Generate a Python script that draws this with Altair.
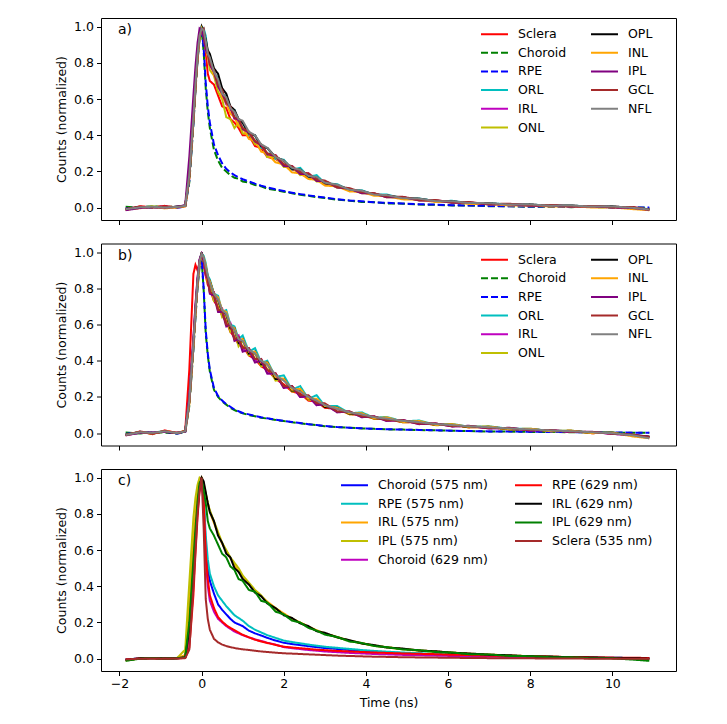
import altair as alt
import pandas as pd

# ---------------- data ----------------
time_ns = [-1.85, -1.5, -1.2, -0.9, -0.6, -0.4,
           -0.3, -0.2, -0.15, -0.1, -0.05, 0.0,
           0.05, 0.1, 0.15, 0.2, 0.3, 0.4, 0.5, 0.6, 0.7, 0.8, 0.9, 1.0,
           1.15, 1.3, 1.45, 1.6, 1.8, 2.0, 2.2, 2.4, 2.6, 2.8, 3.0,
           3.3, 3.6, 3.9, 4.2, 4.5, 4.9, 5.3, 5.7, 6.1, 6.5,
           7.0, 7.5, 8.0, 8.5, 9.0, 9.5, 10.0, 10.5, 10.9]

panel_labels = ["a)", "b)", "c)"]
x_ticks = [-2, 0, 2, 4, 6, 8, 10]
y_ticks = [0.0, 0.2, 0.4, 0.6, 0.8, 1.0]

layers_ab = ["Sclera", "Choroid", "RPE", "ORL", "IRL", "ONL", "OPL", "INL", "IPL", "GCL", "NFL"]
colors_ab = ["#ff0000", "#008000", "#0000ff", "#00bfbf", "#bf00bf", "#bfbf00",
             "#000000", "#ffa500", "#800080", "#a52a2a", "#808080"]
dashed_ab = ["Choroid", "RPE"]

layers_c = ["Choroid (575 nm)", "RPE (575 nm)", "IRL (575 nm)", "IPL (575 nm)", "Choroid (629 nm)",
            "RPE (629 nm)", "IRL (629 nm)", "IPL (629 nm)", "Sclera (535 nm)"]
colors_c = ["#0000ff", "#00bfbf", "#ffa500", "#bfbf00", "#bf00bf",
            "#ff0000", "#000000", "#008000", "#a52a2a"]
dashed_c = []

# panel a
a_sclera = [-0.012, 0.008, 0.003, 0.01, 0.0, 0.008,
            0.16, 0.48, 0.66, 0.83, 0.94, 0.99,
            0.95, 0.86, 0.74, 0.7, 0.68, 0.62, 0.56, 0.55, 0.49, 0.47, 0.44, 0.4,
            0.4, 0.34, 0.33, 0.28, 0.27, 0.24, 0.21, 0.2, 0.165, 0.16, 0.13,
            0.125, 0.095, 0.09, 0.07, 0.07, 0.05, 0.048, 0.035, 0.035, 0.025,
            0.024, 0.015, 0.018, 0.01, 0.012, 0.005, 0.008, -0.002, -0.012]
a_choroid = [0.005, 0.0, 0.008, 0.002, 0.006, 0.004,
             0.14, 0.46, 0.65, 0.81, 0.93, 0.98,
             0.86, 0.66, 0.53, 0.44, 0.32, 0.26, 0.22, 0.2, 0.18, 0.165, 0.16, 0.145,
             0.138, 0.125, 0.118, 0.105, 0.098, 0.088, 0.08, 0.071, 0.066, 0.058, 0.054,
             0.044, 0.039, 0.032, 0.03, 0.024, 0.022, 0.017, 0.016, 0.012, 0.012,
             0.008, 0.008, 0.005, 0.006, 0.003, 0.004, 0.001, 0.002, -0.002]
a_rpe = [-0.005, 0.004, 0.001, 0.006, 0.0, 0.006,
         0.15, 0.47, 0.66, 0.82, 0.94, 0.99,
         0.88, 0.69, 0.56, 0.47, 0.35, 0.29, 0.245, 0.215, 0.195, 0.18, 0.168, 0.157,
         0.145, 0.133, 0.122, 0.112, 0.102, 0.092, 0.083, 0.075, 0.068, 0.062, 0.056,
         0.047, 0.04, 0.035, 0.03, 0.027, 0.023, 0.019, 0.017, 0.014, 0.012,
         0.01, 0.008, 0.007, 0.006, 0.005, 0.004, 0.003, 0.002, 0.001]
a_orl = [-0.008, 0.003, 0.006, 0.002, 0.004, 0.012,
         0.17, 0.49, 0.67, 0.83, 0.95, 1.0,
         0.99, 0.95, 0.85, 0.84, 0.74, 0.72, 0.62, 0.62, 0.54, 0.54, 0.47, 0.47,
         0.4, 0.4, 0.33, 0.33, 0.27, 0.265, 0.21, 0.22, 0.17, 0.18, 0.135,
         0.13, 0.098, 0.096, 0.072, 0.073, 0.052, 0.051, 0.036, 0.038, 0.025,
         0.025, 0.017, 0.018, 0.011, 0.012, 0.006, 0.007, 0.0, -0.008]
a_irl = [-0.01, 0.002, 0.004, -0.002, 0.006, 0.01,
         0.19, 0.52, 0.7, 0.85, 0.96, 0.99,
         0.96, 0.88, 0.85, 0.79, 0.75, 0.67, 0.63, 0.57, 0.55, 0.49, 0.48, 0.43,
         0.42, 0.36, 0.35, 0.29, 0.29, 0.23, 0.23, 0.185, 0.19, 0.148, 0.147,
         0.112, 0.105, 0.081, 0.079, 0.059, 0.059, 0.041, 0.041, 0.029, 0.03,
         0.019, 0.021, 0.012, 0.014, 0.007, 0.01, 0.002, 0.003, -0.011]
a_onl = [-0.012, 0.0, 0.007, 0.001, 0.003, 0.009,
         0.17, 0.49, 0.67, 0.83, 0.94, 0.99,
         0.95, 0.87, 0.84, 0.76, 0.73, 0.64, 0.6, 0.5, 0.49, 0.44, 0.47, 0.41,
         0.41, 0.35, 0.35, 0.28, 0.28, 0.225, 0.225, 0.18, 0.185, 0.145, 0.145,
         0.11, 0.105, 0.08, 0.078, 0.058, 0.058, 0.04, 0.041, 0.027, 0.029,
         0.018, 0.02, 0.011, 0.013, 0.006, 0.008, 0.002, 0.001, -0.01]
a_opl = [-0.008, 0.004, 0.002, 0.003, 0.005, 0.011,
         0.18, 0.5, 0.68, 0.84, 0.95, 1.0,
         0.97, 0.93, 0.87, 0.85, 0.77, 0.74, 0.66, 0.63, 0.56, 0.54, 0.49, 0.47,
         0.41, 0.4, 0.34, 0.33, 0.28, 0.26, 0.215, 0.21, 0.172, 0.168, 0.135,
         0.125, 0.098, 0.092, 0.072, 0.069, 0.052, 0.05, 0.035, 0.035, 0.025,
         0.024, 0.016, 0.017, 0.01, 0.011, 0.005, 0.006, -0.002, -0.009]
a_inl = [-0.01, -0.003, 0.006, -0.004, 0.002, 0.008,
         0.17, 0.49, 0.67, 0.83, 0.94, 0.99,
         0.96, 0.9, 0.83, 0.81, 0.73, 0.69, 0.61, 0.58, 0.52, 0.5, 0.45, 0.44,
         0.38, 0.37, 0.31, 0.3, 0.25, 0.24, 0.195, 0.19, 0.158, 0.155, 0.122,
         0.118, 0.09, 0.087, 0.066, 0.064, 0.046, 0.045, 0.031, 0.031, 0.021,
         0.02, 0.012, 0.013, 0.006, 0.008, 0.001, 0.002, -0.008, -0.014]
a_ipl = [-0.014, -0.002, 0.004, 0.0, 0.004, 0.015,
         0.28, 0.62, 0.78, 0.91, 0.99, 0.98,
         0.94, 0.87, 0.85, 0.79, 0.75, 0.67, 0.63, 0.58, 0.555, 0.495, 0.485, 0.435,
         0.415, 0.365, 0.345, 0.295, 0.285, 0.23, 0.228, 0.186, 0.186, 0.148, 0.146,
         0.112, 0.104, 0.08, 0.079, 0.058, 0.058, 0.04, 0.04, 0.027, 0.029,
         0.018, 0.019, 0.011, 0.012, 0.006, 0.007, 0.001, -0.002, -0.012]
a_gcl = [-0.006, 0.006, 0.0, 0.007, 0.003, 0.01,
         0.17, 0.49, 0.67, 0.83, 0.95, 0.98,
         0.99, 0.9, 0.86, 0.8, 0.76, 0.68, 0.65, 0.58, 0.56, 0.5, 0.49, 0.44,
         0.42, 0.37, 0.35, 0.3, 0.29, 0.24, 0.23, 0.195, 0.19, 0.155, 0.15,
         0.115, 0.108, 0.085, 0.08, 0.062, 0.06, 0.043, 0.042, 0.03, 0.031,
         0.02, 0.022, 0.013, 0.015, 0.008, 0.01, 0.003, 0.004, -0.012]
a_nfl = [-0.008, 0.002, 0.005, 0.001, 0.004, 0.01,
         0.18, 0.5, 0.68, 0.84, 0.95, 0.99,
         0.98, 0.92, 0.85, 0.83, 0.75, 0.71, 0.63, 0.61, 0.55, 0.53, 0.49, 0.48,
         0.42, 0.4, 0.35, 0.33, 0.28, 0.26, 0.22, 0.21, 0.175, 0.17, 0.138,
         0.127, 0.099, 0.094, 0.072, 0.07, 0.052, 0.05, 0.036, 0.036, 0.026,
         0.025, 0.017, 0.018, 0.011, 0.012, 0.006, 0.007, -0.001, -0.01]

# panel b
b_sclera = [-0.012, 0.01, -0.005, 0.015, 0.002, 0.012,
            0.35, 0.88, 0.93, 0.9, 0.94, 0.97,
            0.93, 0.87, 0.82, 0.8, 0.73, 0.7, 0.65, 0.62, 0.56, 0.53, 0.49, 0.48,
            0.43, 0.41, 0.37, 0.35, 0.3, 0.27, 0.23, 0.22, 0.18, 0.175, 0.14,
            0.135, 0.105, 0.1, 0.08, 0.08, 0.06, 0.06, 0.045, 0.045, 0.032,
            0.034, 0.02, 0.022, 0.01, 0.012, 0.0, 0.003, -0.012, -0.022]
b_choroid = [0.004, -0.002, 0.006, 0.003, 0.0, 0.005,
             0.15, 0.46, 0.64, 0.8, 0.92, 0.96,
             0.79, 0.55, 0.43, 0.34, 0.24, 0.2, 0.175, 0.158, 0.14, 0.128, 0.117, 0.11,
             0.1, 0.094, 0.085, 0.081, 0.073, 0.067, 0.06, 0.055, 0.049, 0.044, 0.039,
             0.033, 0.03, 0.026, 0.024, 0.021, 0.02, 0.017, 0.016, 0.013, 0.012,
             0.009, 0.009, 0.007, 0.007, 0.005, 0.005, 0.003, 0.003, 0.002]
b_rpe = [-0.004, 0.006, 0.001, 0.009, -0.003, 0.007,
         0.16, 0.47, 0.65, 0.81, 0.93, 0.97,
         0.8, 0.57, 0.44, 0.35, 0.25, 0.206, 0.18, 0.16, 0.146, 0.131, 0.121, 0.112,
         0.104, 0.095, 0.088, 0.082, 0.075, 0.068, 0.062, 0.056, 0.05, 0.045, 0.04,
         0.034, 0.03, 0.027, 0.024, 0.022, 0.02, 0.018, 0.016, 0.014, 0.012,
         0.01, 0.009, 0.008, 0.007, 0.006, 0.005, 0.004, 0.003, 0.003]
b_orl = [-0.01, 0.008, 0.002, 0.012, -0.002, 0.01,
         0.17, 0.49, 0.67, 0.83, 0.95, 0.99,
         0.98, 0.94, 0.87, 0.85, 0.77, 0.76, 0.67, 0.68, 0.6, 0.59, 0.52, 0.54,
         0.45, 0.47, 0.39, 0.4, 0.31, 0.32, 0.24, 0.26, 0.19, 0.21, 0.15,
         0.15, 0.11, 0.115, 0.085, 0.09, 0.065, 0.07, 0.047, 0.051, 0.036,
         0.038, 0.024, 0.025, 0.012, 0.014, 0.003, 0.004, -0.01, -0.018]
b_irl = [-0.012, 0.003, 0.004, 0.008, 0.003, 0.008,
         0.19, 0.52, 0.7, 0.85, 0.96, 0.99,
         0.95, 0.87, 0.86, 0.78, 0.78, 0.68, 0.69, 0.6, 0.61, 0.52, 0.54, 0.46,
         0.47, 0.4, 0.41, 0.33, 0.33, 0.25, 0.26, 0.2, 0.2, 0.155, 0.16,
         0.118, 0.118, 0.09, 0.092, 0.069, 0.072, 0.051, 0.053, 0.038, 0.04,
         0.027, 0.029, 0.015, 0.017, 0.006, 0.007, -0.004, -0.011, -0.02]
b_onl = [-0.008, 0.006, -0.002, 0.01, 0.002, 0.012,
         0.17, 0.49, 0.67, 0.83, 0.94, 0.98,
         0.95, 0.9, 0.83, 0.83, 0.73, 0.73, 0.64, 0.65, 0.56, 0.57, 0.48, 0.51,
         0.43, 0.44, 0.37, 0.38, 0.29, 0.3, 0.23, 0.235, 0.185, 0.185, 0.145,
         0.138, 0.105, 0.105, 0.08, 0.083, 0.06, 0.063, 0.044, 0.047, 0.033,
         0.034, 0.021, 0.022, 0.011, 0.012, 0.001, 0.002, -0.013, -0.019]
b_opl = [-0.01, 0.004, 0.001, 0.009, 0.0, 0.01,
         0.18, 0.5, 0.68, 0.84, 0.95, 1.0,
         0.96, 0.92, 0.86, 0.84, 0.77, 0.74, 0.67, 0.66, 0.58, 0.58, 0.5, 0.52,
         0.44, 0.45, 0.38, 0.39, 0.3, 0.3, 0.235, 0.24, 0.19, 0.185, 0.145,
         0.14, 0.108, 0.107, 0.082, 0.083, 0.063, 0.064, 0.046, 0.047, 0.034,
         0.035, 0.022, 0.023, 0.012, 0.013, 0.002, 0.003, -0.012, -0.02]
b_inl = [-0.012, 0.007, -0.003, 0.012, 0.001, 0.011,
         0.16, 0.48, 0.66, 0.82, 0.94, 0.99,
         0.97, 0.93, 0.86, 0.84, 0.77, 0.75, 0.68, 0.67, 0.59, 0.58, 0.51, 0.52,
         0.45, 0.45, 0.39, 0.39, 0.31, 0.3, 0.24, 0.245, 0.19, 0.19, 0.15,
         0.14, 0.11, 0.11, 0.082, 0.088, 0.062, 0.067, 0.045, 0.05, 0.035,
         0.037, 0.022, 0.025, 0.011, 0.015, 0.0, 0.003, -0.018, -0.028]
b_ipl = [-0.011, 0.002, 0.003, 0.007, 0.002, 0.01,
         0.2, 0.53, 0.71, 0.86, 0.96, 0.99,
         0.95, 0.88, 0.85, 0.77, 0.76, 0.67, 0.67, 0.59, 0.6, 0.51, 0.52, 0.45,
         0.46, 0.39, 0.4, 0.33, 0.33, 0.25, 0.26, 0.2, 0.205, 0.155, 0.16,
         0.115, 0.12, 0.088, 0.093, 0.068, 0.073, 0.05, 0.054, 0.037, 0.041,
         0.026, 0.03, 0.015, 0.018, 0.006, 0.008, -0.004, -0.009, -0.02]
b_gcl = [-0.009, 0.008, -0.004, 0.013, -0.001, 0.012,
         0.17, 0.49, 0.67, 0.83, 0.95, 0.98,
         0.97, 0.88, 0.86, 0.78, 0.77, 0.68, 0.68, 0.6, 0.6, 0.52, 0.53, 0.47,
         0.47, 0.41, 0.41, 0.35, 0.33, 0.26, 0.26, 0.21, 0.21, 0.165, 0.165,
         0.12, 0.12, 0.093, 0.092, 0.072, 0.071, 0.053, 0.053, 0.039, 0.04,
         0.028, 0.028, 0.017, 0.017, 0.008, 0.007, -0.003, -0.008, -0.022]
b_nfl = [-0.01, 0.005, 0.002, 0.01, 0.001, 0.01,
         0.18, 0.5, 0.68, 0.84, 0.95, 0.99,
         0.97, 0.92, 0.87, 0.83, 0.77, 0.74, 0.68, 0.66, 0.6, 0.57, 0.52, 0.51,
         0.46, 0.44, 0.4, 0.38, 0.32, 0.29, 0.25, 0.23, 0.2, 0.18, 0.155,
         0.135, 0.115, 0.104, 0.088, 0.081, 0.068, 0.061, 0.05, 0.045, 0.038,
         0.033, 0.026, 0.021, 0.015, 0.011, 0.005, 0.0, -0.012, -0.028]

# panel c
c_choroid575 = [-0.005, 0.002, 0.001, 0.003, 0.002, 0.01,
                0.2, 0.56, 0.74, 0.88, 0.97, 1.0,
                0.88, 0.62, 0.5, 0.43, 0.36, 0.3, 0.27, 0.245, 0.22, 0.2, 0.19, 0.18,
                0.155, 0.14, 0.128, 0.115, 0.1, 0.088, 0.081, 0.075, 0.069, 0.064, 0.059,
                0.054, 0.048, 0.043, 0.039, 0.035, 0.031, 0.027, 0.024, 0.021, 0.019,
                0.016, 0.013, 0.011, 0.009, 0.007, 0.006, 0.005, 0.004, 0.003]
c_rpe575 = [-0.004, 0.002, 0.002, 0.002, 0.003, 0.01,
            0.19, 0.55, 0.73, 0.87, 0.96, 0.99,
            0.9, 0.68, 0.55, 0.47, 0.4, 0.35, 0.32, 0.29, 0.265, 0.24, 0.225, 0.21,
            0.18, 0.16, 0.145, 0.13, 0.115, 0.1, 0.092, 0.085, 0.078, 0.072, 0.066,
            0.06, 0.054, 0.048, 0.043, 0.039, 0.034, 0.03, 0.027, 0.024, 0.021,
            0.018, 0.015, 0.012, 0.01, 0.008, 0.006, 0.005, 0.004, 0.003]
c_irl575 = [-0.008, 0.002, 0.003, 0.001, 0.003, 0.02,
            0.3, 0.66, 0.8, 0.92, 0.98, 1.0,
            0.97, 0.91, 0.86, 0.81, 0.75, 0.69, 0.635, 0.595, 0.555, 0.515, 0.48, 0.45,
            0.41, 0.375, 0.345, 0.315, 0.28, 0.25, 0.222, 0.2, 0.178, 0.157, 0.14,
            0.12, 0.1, 0.086, 0.073, 0.064, 0.054, 0.046, 0.04, 0.034, 0.028,
            0.023, 0.018, 0.014, 0.011, 0.008, 0.006, 0.004, 0.002, 0.0]
c_ipl575 = [-0.01, 0.001, 0.002, 0.0, 0.003, 0.05,
            0.42, 0.78, 0.89, 0.96, 1.0, 0.99,
            0.96, 0.91, 0.86, 0.82, 0.76, 0.7, 0.64, 0.6, 0.56, 0.53, 0.5, 0.46,
            0.42, 0.38, 0.35, 0.31, 0.275, 0.245, 0.22, 0.198, 0.176, 0.155, 0.138,
            0.118, 0.098, 0.084, 0.071, 0.062, 0.052, 0.044, 0.038, 0.032, 0.027,
            0.021, 0.016, 0.013, 0.01, 0.007, 0.005, 0.003, 0.0, -0.003]
c_choroid629 = [-0.005, 0.001, 0.002, 0.001, 0.002, 0.006,
                0.12, 0.45, 0.65, 0.82, 0.94, 1.0,
                0.85, 0.55, 0.4, 0.32, 0.26, 0.22, 0.2, 0.18, 0.165, 0.15, 0.14, 0.13,
                0.118, 0.107, 0.098, 0.088, 0.078, 0.064, 0.058, 0.053, 0.048, 0.044, 0.04,
                0.036, 0.032, 0.029, 0.026, 0.024, 0.021, 0.019, 0.017, 0.015, 0.013,
                0.011, 0.009, 0.008, 0.007, 0.006, 0.005, 0.004, 0.003, 0.003]
c_rpe629 = [-0.004, 0.001, 0.002, 0.001, 0.002, 0.004,
            0.06, 0.35, 0.58, 0.78, 0.93, 1.0,
            0.87, 0.58, 0.44, 0.35, 0.28, 0.23, 0.205, 0.185, 0.17, 0.158, 0.145, 0.132,
            0.118, 0.105, 0.095, 0.087, 0.076, 0.066, 0.062, 0.058, 0.054, 0.05, 0.047,
            0.043, 0.04, 0.037, 0.034, 0.032, 0.029, 0.027, 0.025, 0.022, 0.02,
            0.017, 0.015, 0.013, 0.011, 0.009, 0.007, 0.006, 0.005, 0.004]
c_irl629 = [-0.008, 0.002, 0.004, 0.001, 0.003, 0.008,
            0.16, 0.48, 0.66, 0.83, 0.95, 1.0,
            0.98, 0.92, 0.86, 0.81, 0.76, 0.68, 0.64, 0.58, 0.56, 0.5, 0.48, 0.44,
            0.41, 0.365, 0.345, 0.305, 0.28, 0.24, 0.225, 0.195, 0.18, 0.152, 0.143,
            0.118, 0.102, 0.084, 0.075, 0.062, 0.056, 0.045, 0.041, 0.033, 0.029,
            0.022, 0.019, 0.013, 0.012, 0.007, 0.007, 0.003, 0.003, 0.0]
c_ipl629 = [-0.012, 0.0, 0.003, 0.0, 0.002, 0.007,
            0.2, 0.55, 0.72, 0.87, 0.97, 0.99,
            0.93, 0.86, 0.76, 0.72, 0.68, 0.63, 0.58, 0.56, 0.51, 0.49, 0.44, 0.43,
            0.38, 0.37, 0.32, 0.31, 0.26, 0.245, 0.21, 0.2, 0.17, 0.155, 0.133,
            0.12, 0.095, 0.087, 0.07, 0.064, 0.051, 0.047, 0.037, 0.034, 0.025,
            0.023, 0.015, 0.014, 0.008, 0.008, 0.002, 0.002, -0.005, -0.012]
c_sclera535 = [-0.004, 0.0, 0.001, 0.0, 0.001, 0.003,
               0.05, 0.4, 0.6, 0.8, 0.93, 1.0,
               0.72, 0.33, 0.22, 0.16, 0.11, 0.09, 0.078, 0.07, 0.064, 0.059, 0.055, 0.052,
               0.048, 0.044, 0.04, 0.037, 0.033, 0.03, 0.028, 0.026, 0.024, 0.022, 0.02,
               0.017, 0.015, 0.013, 0.011, 0.01, 0.008, 0.007, 0.006, 0.005, 0.004,
               0.003, 0.002, 0.002, 0.001, 0.001, 0.0, 0.0, 0.0, 0.0]

series_a = [a_sclera, a_choroid, a_rpe, a_orl, a_irl, a_onl, a_opl, a_inl, a_ipl, a_gcl, a_nfl]
series_b = [b_sclera, b_choroid, b_rpe, b_orl, b_irl, b_onl, b_opl, b_inl, b_ipl, b_gcl, b_nfl]
series_c = [c_choroid575, c_rpe575, c_irl575, c_ipl575, c_choroid629,
            c_rpe629, c_irl629, c_ipl629, c_sclera535]


# ---------------- build ----------------
def long_df(names, series):
    rows = []
    for name, vals in zip(names, series):
        assert len(vals) == len(time_ns), name
        for t, v in zip(time_ns, vals):
            rows.append({"t": t, "v": v, "s": name})
    return pd.DataFrame(rows)


FONT = "DejaVu Sans"
W, H = 575, 202


def panel(names, colors, dashed, series, label, legend_x, col_pad, bottom):
    df = long_df(names, series)
    dashes = [[7, 3] if n in dashed else [1, 0] for n in names]
    leg = alt.Legend(
        title=None, orient="none", legendX=legend_x, legendY=8,
        columns=2, columnPadding=col_pad, rowPadding=3.7,
        symbolType="M-2,0H2", symbolSize=182, symbolStrokeWidth=2,
        labelFont=FONT, labelFontSize=12.5, labelColor="#000", labelOffset=15.5,
        padding=0,
    )
    if bottom:
        xaxis = alt.Axis(values=x_ticks, title="Time (ns)", labelPadding=1.5, titlePadding=7)
    else:
        xaxis = alt.Axis(values=x_ticks, labels=False, title=None)
    lines = alt.Chart(df).mark_line(strokeWidth=2).encode(
        x=alt.X("t:Q", scale=alt.Scale(domain=[-2.45, 11.55], nice=False, zero=False), axis=xaxis),
        y=alt.Y("v:Q", scale=alt.Scale(domain=[-0.068, 1.048], nice=False, zero=False),
                axis=alt.Axis(values=y_ticks, format=".1f", title="Counts (normalized)",
                              labelPadding=3, titlePadding=5)),
        color=alt.Color("s:N", scale=alt.Scale(domain=names, range=colors), legend=leg),
        strokeDash=alt.StrokeDash("s:N", scale=alt.Scale(domain=names, range=dashes), legend=leg),
    )
    txt = alt.Chart(pd.DataFrame({"lab": [label]})).mark_text(
        align="left", baseline="middle", font=FONT, fontSize=14, color="#000"
    ).encode(text="lab:N", x=alt.value(17), y=alt.value(12))
    return alt.layer(lines, txt).properties(width=W, height=H)


pa = panel(layers_ab, colors_ab, dashed_ab, series_a, panel_labels[0], 385.5, 20, False)
pb = panel(layers_ab, colors_ab, dashed_ab, series_b, panel_labels[1], 385.5, 20, False)
pc = panel(layers_c, colors_c, dashed_c, series_c, panel_labels[2], 245.5, 22, True)

chart = alt.vconcat(pa, pb, pc, spacing=16.5).resolve_scale(
    color="independent", strokeDash="independent"
).properties(
    padding={"left": 47, "top": 9, "right": 5, "bottom": 5}
).configure_view(
    stroke="#000", strokeWidth=1
).configure_axis(
    labelFont=FONT, labelFontSize=12.5, labelColor="#000",
    titleFont=FONT, titleFontSize=12.5, titleFontWeight="normal", titleColor="#000",
    tickColor="#000", tickSize=4.5, domain=False, grid=False
)

chart.save("out.html", embed_options={"renderer": "svg", "actions": False})
